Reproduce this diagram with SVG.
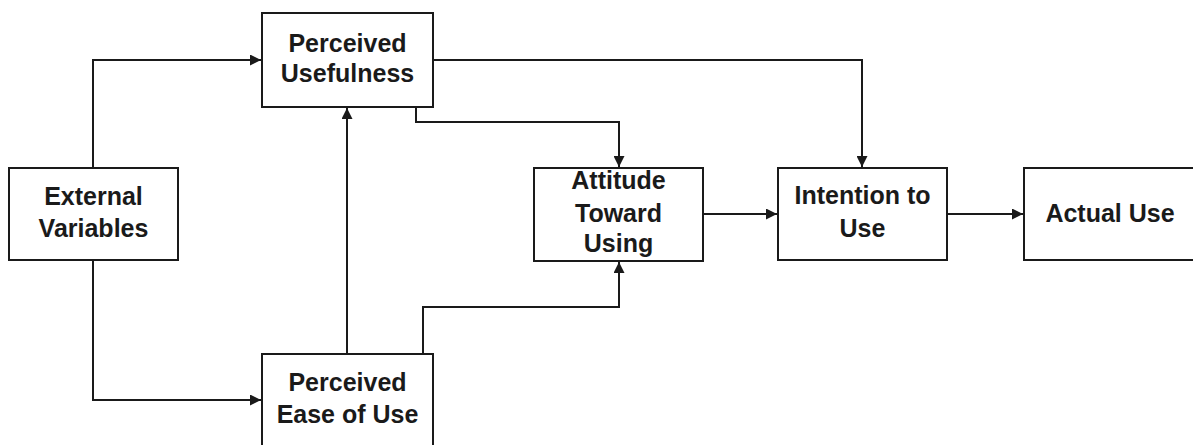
<svg xmlns="http://www.w3.org/2000/svg" width="1193" height="445" viewBox="0 0 1193 445">
<style>
.box{fill:#fff;stroke:#1a1a1a;stroke-width:2}
.t{font-family:"Liberation Sans",Arial,sans-serif;font-weight:bold;font-size:25px;fill:#1a1a1a;text-anchor:middle}
.c{fill:none;stroke:#1a1a1a;stroke-width:2}
</style>
<defs>
<marker id="ah" viewBox="0 0 10 10" refX="10" refY="5" markerWidth="11" markerHeight="11" markerUnits="userSpaceOnUse" orient="auto">
<path d="M0,0 L10,5 L0,10 z" fill="#1a1a1a"/>
</marker>
</defs>
<rect width="1193" height="445" fill="#fff"/>
<g id="connectors">
<path class="c" d="M93,168 V60 H261" marker-end="url(#ah)"/>
<path class="c" d="M93,260 V400 H261" marker-end="url(#ah)"/>
<path class="c" d="M347,354 V108" marker-end="url(#ah)"/>
<path class="c" d="M423,354 V307 H619 V262" marker-end="url(#ah)"/>
<path class="c" d="M416,107 V122 H619 V167" marker-end="url(#ah)"/>
<path class="c" d="M433,60 H862 V167" marker-end="url(#ah)"/>
<path class="c" d="M703,214 H777" marker-end="url(#ah)"/>
<path class="c" d="M947,214 H1023" marker-end="url(#ah)"/>
</g>
<g id="perceived-usefulness">
<rect class="box" x="262" y="13" width="171" height="94"/>
<text class="t" x="347.5" y="52">Perceived</text>
<text class="t" x="347.5" y="82">Usefulness</text>
</g>
<g id="external-variables">
<rect class="box" x="9" y="168" width="169" height="92"/>
<text class="t" x="93.5" y="205">External</text>
<text class="t" x="93.5" y="237">Variables</text>
</g>
<g id="perceived-ease-of-use">
<rect class="box" x="262" y="354" width="171" height="100"/>
<text class="t" x="347.5" y="391">Perceived</text>
<text class="t" x="347.5" y="423">Ease of Use</text>
</g>
<g id="attitude">
<rect class="box" x="534" y="168" width="169" height="93"/>
<text class="t" x="618.5" y="189">Attitude</text>
<text class="t" x="618.5" y="222">Toward</text>
<text class="t" x="618.5" y="252">Using</text>
</g>
<g id="intention">
<rect class="box" x="778" y="168" width="169" height="92"/>
<text class="t" x="862.5" y="204">Intention to</text>
<text class="t" x="862.5" y="237">Use</text>
</g>
<g id="actual-use">
<rect class="box" x="1024" y="168" width="180" height="92"/>
<text class="t" x="1110" y="222">Actual Use</text>
</g>
</svg>
